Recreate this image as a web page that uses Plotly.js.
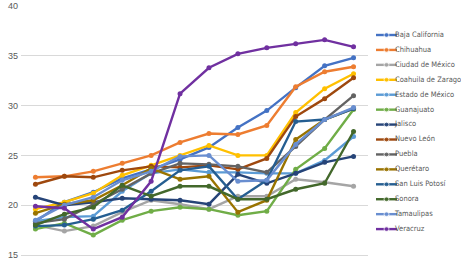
<!DOCTYPE html>
<html>
<head>
<meta charset="utf-8">
<script src="https://cdn.plot.ly/plotly-3.0.1.min.js"></script>
<style>html,body{margin:0;padding:0;background:#fff;}#chart{width:461px;height:262px;}</style>
</head>
<body>
<div id="chart"></div>
<script>
// Periods (x categories, labels not shown in the original)
const periods = [1,2,3,4,5,6,7,8,9,10,11,12];

const states = ["Baja California","Chihuahua","Ciudad de México","Coahuila de Zaragoza","Estado de México","Guanajuato","Jalisco","Nuevo León","Puebla","Querétaro","San Luis Potosí","Sonora","Tamaulipas","Veracruz"];

const bajaCalifornia = [18.4, 20.3, 21.3, 22.7, 23.6, 24.6, 25.8, 27.8, 29.5, 31.8, 34.0, 34.8];
const chihuahua      = [22.8, 22.9, 23.4, 24.2, 25.0, 26.3, 27.2, 27.1, 28.0, 31.9, 33.4, 33.9];
const ciudadMexico   = [18.0, 17.4, 17.9, 19.3, 20.5, 20.1, 19.6, 20.9, 20.9, 22.6, 22.3, 21.9];
const coahuila       = [19.6, 20.3, 21.2, 23.0, 24.0, 25.0, 26.0, 25.0, 25.0, 29.3, 31.7, 33.2];
const estadoMexico   = [18.4, 18.8, 18.9, 21.4, 23.2, 23.6, 23.3, 23.3, 23.2, 23.2, 24.5, 26.9];
const guanajuato     = [17.6, 18.2, 17.0, 18.5, 19.4, 19.8, 19.6, 19.0, 19.4, 23.6, 25.7, 29.6];
const jalisco        = [20.8, 20.0, 20.3, 20.7, 20.6, 20.5, 20.1, 23.1, 22.2, 23.2, 24.3, 24.9];
const nuevoLeon      = [22.1, 22.9, 22.8, 23.5, 23.9, 23.8, 24.0, 23.6, 24.7, 28.9, 30.7, 32.8];
const puebla         = [18.2, 18.6, 20.1, 21.6, 23.2, 24.2, 24.1, 23.9, 23.3, 25.9, 28.6, 31.0];
const queretaro      = [19.2, 20.1, 20.5, 22.0, 23.7, 22.6, 22.9, 19.3, 20.5, 26.6, 28.6, 29.7];
const sanLuisPotosi  = [17.9, 18.0, 18.6, 19.5, 21.4, 23.5, 23.9, 20.6, 22.5, 28.4, 28.6, 29.7];
const sonora         = [18.0, 19.1, 19.8, 22.0, 20.9, 21.9, 21.9, 20.6, 20.6, 21.6, 22.2, 27.4];
const tamaulipas     = [18.5, 20.0, 20.8, 22.5, 23.4, 24.9, 25.0, 22.4, 22.5, 26.1, 28.6, 29.8];
const veracruz       = [19.9, 19.7, 17.6, 18.8, 22.4, 31.2, 33.8, 35.2, 35.8, 36.2, 36.6, 35.9];

const yTicks = [15, 20, 25, 30, 35, 40];

const seriesValues = [bajaCalifornia, chihuahua, ciudadMexico, coahuila, estadoMexico, guanajuato, jalisco, nuevoLeon, puebla, queretaro, sanLuisPotosi, sonora, tamaulipas, veracruz];
const colors = ["#4472C4","#ED7D31","#A5A5A5","#FFC000","#5B9BD5","#70AD47","#264478","#9E480E","#636363","#997300","#255E91","#43682B","#698ED0","#7030A0"];

const traces = [];
seriesValues.forEach((vals, i) => {
  traces.push({
    type: 'scatter', mode: 'lines+markers',
    x: periods, y: vals, name: states[i],
    line: {color: colors[i], width: 2.4},
    marker: {color: colors[i], size: 5},
    xaxis: 'x', yaxis: 'y', showlegend: false, hoverinfo: 'skip'
  });
});
// Legend drawn in its own small subplot
const sampleLen = 21;
states.forEach((s, i) => {
  traces.push({
    type: 'scatter', mode: 'lines+markers',
    x: [0, sampleLen/2, sampleLen], y: [i, i, i],
    line: {color: colors[i], width: 2.4},
    marker: {color: colors[i], size: [0, 5, 0]},
    xaxis: 'x2', yaxis: 'y2', showlegend: false, hoverinfo: 'skip'
  });
});
traces.push({
  type: 'scatter', mode: 'text',
  x: states.map(() => sampleLen - 2), y: states.map((s, i) => i),
  text: states, textposition: 'middle right',
  textfont: {family: 'Liberation Sans Narrow, DejaVu Sans Condensed, sans-serif', size: 7.5, color: '#595959'},
  xaxis: 'x2', yaxis: 'y2', showlegend: false, hoverinfo: 'skip', cliponaxis: false
});

const W = 461, H = 262, L = 21, T = 6, B = 7;
const plotRight = 368, legLeft = 376;
const innerW = W - L;
const itemStep = 14.93, firstItemPx = 35;
const topPx = T, botPx = H - B;

const layout = {
  width: W, height: H,
  margin: {l: L, r: 0, t: T, b: B, pad: 0},
  paper_bgcolor: '#fff', plot_bgcolor: '#fff',
  showlegend: false,
  font: {family: 'Liberation Sans, Arial, sans-serif', color: '#595959'},
  xaxis: {
    domain: [0, (plotRight - L) / innerW],
    range: [0.5, periods.length + 0.5],
    showticklabels: false, showgrid: false, zeroline: false,
    showline: true, linecolor: '#d9d9d9', linewidth: 1, ticks: '', fixedrange: true
  },
  yaxis: {
    range: [15, 40], tickvals: yTicks, ticktext: yTicks.map(String),
    showgrid: true, gridcolor: '#d9d9d9', gridwidth: 1, zeroline: false,
    showline: false, ticks: '', ticklabelstandoff: 2,
    tickfont: {size: 9, color: '#595959'}, fixedrange: true
  },
  xaxis2: {
    domain: [(legLeft - L) / innerW, 1], anchor: 'y2',
    range: [0, W - legLeft], visible: false, fixedrange: true
  },
  yaxis2: {
    domain: [0, 1], anchor: 'x2',
    range: [(botPx - firstItemPx) / itemStep, (topPx - firstItemPx) / itemStep],
    visible: false, fixedrange: true
  }
};

Plotly.newPlot('chart', traces, layout, {staticPlot: true, displayModeBar: false});
</script>
</body>
</html>
